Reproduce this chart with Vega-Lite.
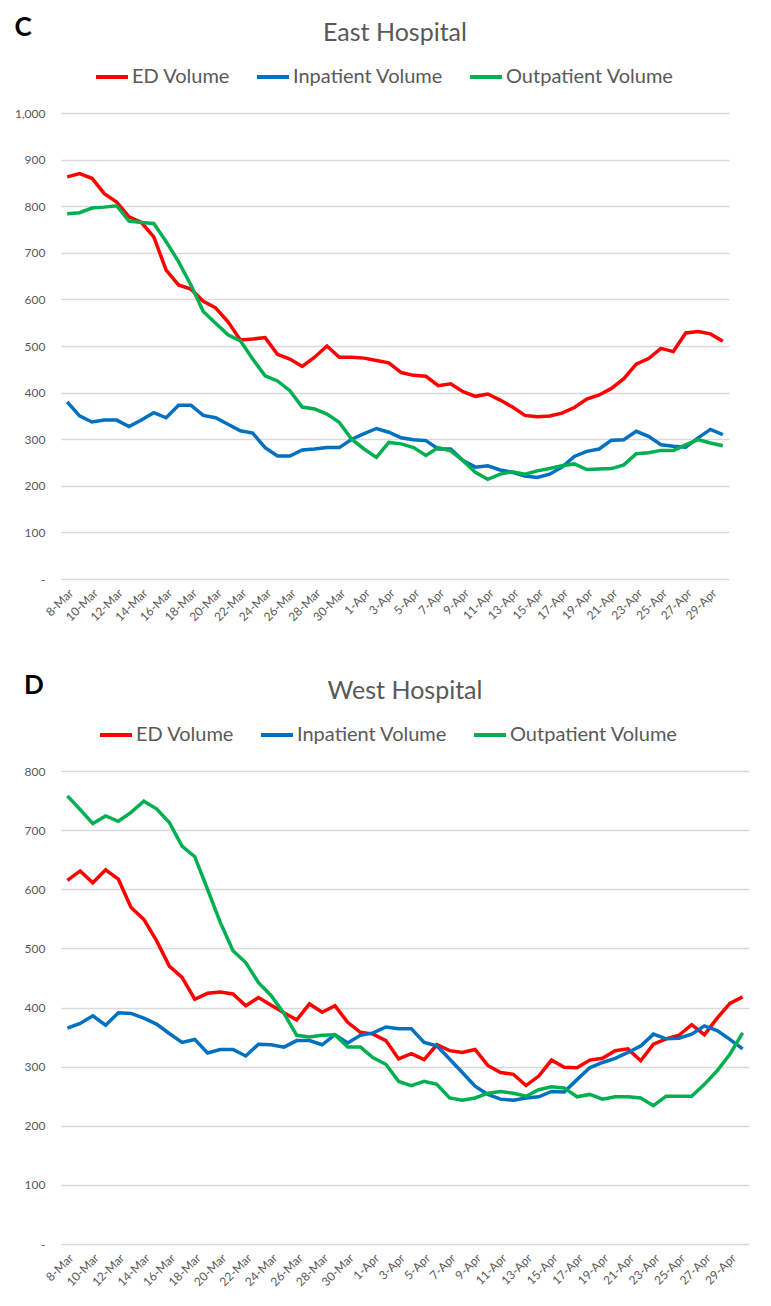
{
 "$schema": "https://vega.github.io/schema/vega-lite/v6.json",
 "padding": {"left": 14, "top": 15, "right": 5, "bottom": 5},
 "background": "white",
 "config": {"font": "Lato", "view": {"stroke": null}, "concat": {"spacing": 50}},
 "align": "none",
 "resolve": {"scale": {"color": "independent"}, "legend": {"color": "independent"}},
 "datasets": {
  "east": [
   {"d":"8-Mar","ED Volume":863,"Inpatient Volume":380,"Outpatient Volume":784},
   {"d":"9-Mar","ED Volume":870,"Inpatient Volume":350,"Outpatient Volume":786},
   {"d":"10-Mar","ED Volume":860,"Inpatient Volume":337,"Outpatient Volume":796},
   {"d":"11-Mar","ED Volume":827,"Inpatient Volume":341,"Outpatient Volume":798},
   {"d":"12-Mar","ED Volume":809,"Inpatient Volume":341,"Outpatient Volume":801},
   {"d":"13-Mar","ED Volume":777,"Inpatient Volume":327,"Outpatient Volume":768},
   {"d":"14-Mar","ED Volume":765,"Inpatient Volume":341,"Outpatient Volume":765},
   {"d":"15-Mar","ED Volume":734,"Inpatient Volume":357,"Outpatient Volume":763},
   {"d":"16-Mar","ED Volume":663,"Inpatient Volume":346,"Outpatient Volume":724},
   {"d":"17-Mar","ED Volume":631,"Inpatient Volume":373,"Outpatient Volume":681},
   {"d":"18-Mar","ED Volume":622,"Inpatient Volume":373,"Outpatient Volume":631},
   {"d":"19-Mar","ED Volume":596,"Inpatient Volume":351,"Outpatient Volume":574},
   {"d":"20-Mar","ED Volume":582,"Inpatient Volume":346,"Outpatient Volume":549},
   {"d":"21-Mar","ED Volume":552,"Inpatient Volume":332,"Outpatient Volume":524},
   {"d":"22-Mar","ED Volume":513,"Inpatient Volume":318,"Outpatient Volume":511},
   {"d":"23-Mar","ED Volume":515,"Inpatient Volume":313,"Outpatient Volume":472},
   {"d":"24-Mar","ED Volume":518,"Inpatient Volume":282,"Outpatient Volume":436},
   {"d":"25-Mar","ED Volume":482,"Inpatient Volume":264,"Outpatient Volume":425},
   {"d":"26-Mar","ED Volume":472,"Inpatient Volume":264,"Outpatient Volume":404},
   {"d":"27-Mar","ED Volume":456,"Inpatient Volume":277,"Outpatient Volume":369},
   {"d":"28-Mar","ED Volume":476,"Inpatient Volume":279,"Outpatient Volume":365},
   {"d":"29-Mar","ED Volume":500,"Inpatient Volume":282,"Outpatient Volume":354},
   {"d":"30-Mar","ED Volume":476,"Inpatient Volume":282,"Outpatient Volume":336},
   {"d":"31-Mar","ED Volume":476,"Inpatient Volume":300,"Outpatient Volume":300},
   {"d":"1-Apr","ED Volume":474,"Inpatient Volume":312,"Outpatient Volume":279},
   {"d":"2-Apr","ED Volume":469,"Inpatient Volume":323,"Outpatient Volume":261},
   {"d":"3-Apr","ED Volume":464,"Inpatient Volume":315,"Outpatient Volume":293},
   {"d":"4-Apr","ED Volume":443,"Inpatient Volume":303,"Outpatient Volume":290},
   {"d":"5-Apr","ED Volume":437,"Inpatient Volume":299,"Outpatient Volume":282},
   {"d":"6-Apr","ED Volume":435,"Inpatient Volume":297,"Outpatient Volume":265},
   {"d":"7-Apr","ED Volume":415,"Inpatient Volume":279,"Outpatient Volume":282},
   {"d":"8-Apr","ED Volume":419,"Inpatient Volume":279,"Outpatient Volume":275},
   {"d":"9-Apr","ED Volume":402,"Inpatient Volume":254,"Outpatient Volume":254},
   {"d":"10-Apr","ED Volume":392,"Inpatient Volume":240,"Outpatient Volume":229},
   {"d":"11-Apr","ED Volume":397,"Inpatient Volume":243,"Outpatient Volume":214},
   {"d":"12-Apr","ED Volume":384,"Inpatient Volume":234,"Outpatient Volume":225},
   {"d":"13-Apr","ED Volume":369,"Inpatient Volume":229,"Outpatient Volume":230},
   {"d":"14-Apr","ED Volume":351,"Inpatient Volume":221,"Outpatient Volume":225},
   {"d":"15-Apr","ED Volume":348,"Inpatient Volume":218,"Outpatient Volume":232},
   {"d":"16-Apr","ED Volume":350,"Inpatient Volume":225,"Outpatient Volume":237},
   {"d":"17-Apr","ED Volume":356,"Inpatient Volume":240,"Outpatient Volume":243},
   {"d":"18-Apr","ED Volume":368,"Inpatient Volume":263,"Outpatient Volume":247},
   {"d":"19-Apr","ED Volume":386,"Inpatient Volume":274,"Outpatient Volume":235},
   {"d":"20-Apr","ED Volume":395,"Inpatient Volume":279,"Outpatient Volume":236},
   {"d":"21-Apr","ED Volume":409,"Inpatient Volume":298,"Outpatient Volume":237},
   {"d":"22-Apr","ED Volume":430,"Inpatient Volume":299,"Outpatient Volume":245},
   {"d":"23-Apr","ED Volume":461,"Inpatient Volume":317,"Outpatient Volume":269},
   {"d":"24-Apr","ED Volume":473,"Inpatient Volume":306,"Outpatient Volume":271},
   {"d":"25-Apr","ED Volume":495,"Inpatient Volume":288,"Outpatient Volume":276},
   {"d":"26-Apr","ED Volume":488,"Inpatient Volume":285,"Outpatient Volume":276},
   {"d":"27-Apr","ED Volume":528,"Inpatient Volume":283,"Outpatient Volume":288},
   {"d":"28-Apr","ED Volume":531,"Inpatient Volume":303,"Outpatient Volume":299},
   {"d":"29-Apr","ED Volume":526,"Inpatient Volume":321,"Outpatient Volume":292},
   {"d":"30-Apr","ED Volume":510,"Inpatient Volume":310,"Outpatient Volume":286}
  ],
  "west": [
   {"d":"8-Mar","ED Volume":615,"Inpatient Volume":365,"Outpatient Volume":758},
   {"d":"9-Mar","ED Volume":631,"Inpatient Volume":373,"Outpatient Volume":735},
   {"d":"10-Mar","ED Volume":611,"Inpatient Volume":386,"Outpatient Volume":711},
   {"d":"11-Mar","ED Volume":633,"Inpatient Volume":370,"Outpatient Volume":724},
   {"d":"12-Mar","ED Volume":617,"Inpatient Volume":391,"Outpatient Volume":715},
   {"d":"13-Mar","ED Volume":569,"Inpatient Volume":390,"Outpatient Volume":730},
   {"d":"14-Mar","ED Volume":549,"Inpatient Volume":382,"Outpatient Volume":749},
   {"d":"15-Mar","ED Volume":513,"Inpatient Volume":372,"Outpatient Volume":736},
   {"d":"16-Mar","ED Volume":470,"Inpatient Volume":356,"Outpatient Volume":713},
   {"d":"17-Mar","ED Volume":451,"Inpatient Volume":341,"Outpatient Volume":673},
   {"d":"18-Mar","ED Volume":414,"Inpatient Volume":346,"Outpatient Volume":655},
   {"d":"19-Mar","ED Volume":424,"Inpatient Volume":323,"Outpatient Volume":600},
   {"d":"20-Mar","ED Volume":426,"Inpatient Volume":329,"Outpatient Volume":544},
   {"d":"21-Mar","ED Volume":423,"Inpatient Volume":329,"Outpatient Volume":496},
   {"d":"22-Mar","ED Volume":403,"Inpatient Volume":318,"Outpatient Volume":476},
   {"d":"23-Mar","ED Volume":417,"Inpatient Volume":338,"Outpatient Volume":442},
   {"d":"24-Mar","ED Volume":404,"Inpatient Volume":337,"Outpatient Volume":420},
   {"d":"25-Mar","ED Volume":391,"Inpatient Volume":333,"Outpatient Volume":390},
   {"d":"26-Mar","ED Volume":379,"Inpatient Volume":344,"Outpatient Volume":353},
   {"d":"27-Mar","ED Volume":406,"Inpatient Volume":344,"Outpatient Volume":350},
   {"d":"28-Mar","ED Volume":392,"Inpatient Volume":337,"Outpatient Volume":353},
   {"d":"29-Mar","ED Volume":403,"Inpatient Volume":354,"Outpatient Volume":354},
   {"d":"30-Mar","ED Volume":375,"Inpatient Volume":340,"Outpatient Volume":333},
   {"d":"31-Mar","ED Volume":358,"Inpatient Volume":353,"Outpatient Volume":333},
   {"d":"1-Apr","ED Volume":355,"Inpatient Volume":357,"Outpatient Volume":315},
   {"d":"2-Apr","ED Volume":344,"Inpatient Volume":367,"Outpatient Volume":304},
   {"d":"3-Apr","ED Volume":313,"Inpatient Volume":364,"Outpatient Volume":275},
   {"d":"4-Apr","ED Volume":322,"Inpatient Volume":364,"Outpatient Volume":268},
   {"d":"5-Apr","ED Volume":312,"Inpatient Volume":341,"Outpatient Volume":275},
   {"d":"6-Apr","ED Volume":337,"Inpatient Volume":335,"Outpatient Volume":270},
   {"d":"7-Apr","ED Volume":327,"Inpatient Volume":313,"Outpatient Volume":247},
   {"d":"8-Apr","ED Volume":324,"Inpatient Volume":290,"Outpatient Volume":243},
   {"d":"9-Apr","ED Volume":329,"Inpatient Volume":267,"Outpatient Volume":247},
   {"d":"10-Apr","ED Volume":302,"Inpatient Volume":253,"Outpatient Volume":255},
   {"d":"11-Apr","ED Volume":290,"Inpatient Volume":245,"Outpatient Volume":258},
   {"d":"12-Apr","ED Volume":287,"Inpatient Volume":243,"Outpatient Volume":255},
   {"d":"13-Apr","ED Volume":268,"Inpatient Volume":247,"Outpatient Volume":250},
   {"d":"14-Apr","ED Volume":284,"Inpatient Volume":249,"Outpatient Volume":261},
   {"d":"15-Apr","ED Volume":311,"Inpatient Volume":258,"Outpatient Volume":266},
   {"d":"16-Apr","ED Volume":299,"Inpatient Volume":257,"Outpatient Volume":264},
   {"d":"17-Apr","ED Volume":298,"Inpatient Volume":278,"Outpatient Volume":249},
   {"d":"18-Apr","ED Volume":311,"Inpatient Volume":298,"Outpatient Volume":253},
   {"d":"19-Apr","ED Volume":314,"Inpatient Volume":307,"Outpatient Volume":245},
   {"d":"20-Apr","ED Volume":327,"Inpatient Volume":314,"Outpatient Volume":249},
   {"d":"21-Apr","ED Volume":330,"Inpatient Volume":324,"Outpatient Volume":249},
   {"d":"22-Apr","ED Volume":310,"Inpatient Volume":335,"Outpatient Volume":247},
   {"d":"23-Apr","ED Volume":338,"Inpatient Volume":355,"Outpatient Volume":234},
   {"d":"24-Apr","ED Volume":347,"Inpatient Volume":347,"Outpatient Volume":250},
   {"d":"25-Apr","ED Volume":353,"Inpatient Volume":348,"Outpatient Volume":250},
   {"d":"26-Apr","ED Volume":371,"Inpatient Volume":355,"Outpatient Volume":250},
   {"d":"27-Apr","ED Volume":354,"Inpatient Volume":369,"Outpatient Volume":270},
   {"d":"28-Apr","ED Volume":382,"Inpatient Volume":361,"Outpatient Volume":293},
   {"d":"29-Apr","ED Volume":407,"Inpatient Volume":346,"Outpatient Volume":321},
   {"d":"30-Apr","ED Volume":418,"Inpatient Volume":330,"Outpatient Volume":357}
  ]
 },
 "vconcat": [
  {
   "title": {"text": "C", "anchor": "start", "fontSize": 26, "fontWeight": "bold", "color": "#000000", "offset": -20},
   "vconcat": [
    {
     "title": {"text": "East Hospital", "fontSize": 25, "fontWeight": "normal", "color": "#595959", "offset": 61},
     "width": 668,
     "height": 466,
     "data": {"name": "east"},
     "transform": [{"fold": ["ED Volume", "Inpatient Volume", "Outpatient Volume"], "as": ["series", "value"]}],
     "mark": {"type": "line", "strokeWidth": 3.5},
     "encoding": {
      "x": {"field": "d", "type": "ordinal", "sort": null, "scale": {"type": "point", "padding": 0.5},
       "axis": {"values": ["8-Mar","10-Mar","12-Mar","14-Mar","16-Mar","18-Mar","20-Mar","22-Mar","24-Mar","26-Mar","28-Mar","30-Mar","1-Apr","3-Apr","5-Apr","7-Apr","9-Apr","11-Apr","13-Apr","15-Apr","17-Apr","19-Apr","21-Apr","23-Apr","25-Apr","27-Apr","29-Apr"],
        "labelAngle": -45, "grid": false, "ticks": false, "domain": false, "title": null, "labelColor": "#595959", "labelFontSize": 12, "labelPadding": 8}},
      "y": {"field": "value", "type": "quantitative", "scale": {"domain": [0, 1000], "nice": false},
       "axis": {"values": [0,100,200,300,400,500,600,700,800,900,1000], "labelExpr": "datum.value == 0 ? '-' : format(datum.value, ',')", "grid": true, "gridColor": "#d9d9d9", "gridWidth": 1.5, "ticks": false, "domain": false, "title": null, "labelColor": "#595959", "labelFontSize": 12, "labelPadding": 16}},
      "color": {"field": "series", "type": "nominal",
       "scale": {"domain": ["ED Volume", "Inpatient Volume", "Outpatient Volume"], "range": ["#ff0000", "#0070c0", "#00b050"]},
       "legend": {"orient": "none", "legendX": 33, "legendY": -54, "direction": "horizontal", "title": null, "symbolType": "stroke", "symbolStrokeWidth": 4, "symbolSize": 1024, "labelFontSize": 20, "labelLimit": 300, "labelColor": "#595959", "columnPadding": 18, "labelOffset": 2}}
     }
    }
   ]
  },
  {
   "title": {"text": "D", "anchor": "start", "fontSize": 26, "fontWeight": "bold", "color": "#000000", "offset": -20},
   "vconcat": [
    {
     "title": {"text": "West Hospital", "fontSize": 25, "fontWeight": "normal", "color": "#595959", "offset": 61},
     "width": 688,
     "height": 473,
     "data": {"name": "west"},
     "transform": [{"fold": ["ED Volume", "Inpatient Volume", "Outpatient Volume"], "as": ["series", "value"]}],
     "mark": {"type": "line", "strokeWidth": 3.5},
     "encoding": {
      "x": {"field": "d", "type": "ordinal", "sort": null, "scale": {"type": "point", "padding": 0.5},
       "axis": {"values": ["8-Mar","10-Mar","12-Mar","14-Mar","16-Mar","18-Mar","20-Mar","22-Mar","24-Mar","26-Mar","28-Mar","30-Mar","1-Apr","3-Apr","5-Apr","7-Apr","9-Apr","11-Apr","13-Apr","15-Apr","17-Apr","19-Apr","21-Apr","23-Apr","25-Apr","27-Apr","29-Apr"],
        "labelAngle": -45, "grid": false, "ticks": false, "domain": false, "title": null, "labelColor": "#595959", "labelFontSize": 12, "labelPadding": 8}},
      "y": {"field": "value", "type": "quantitative", "scale": {"domain": [0, 800], "nice": false},
       "axis": {"values": [0,100,200,300,400,500,600,700,800], "labelExpr": "datum.value == 0 ? '-' : format(datum.value, ',')", "grid": true, "gridColor": "#d9d9d9", "gridWidth": 1.5, "ticks": false, "domain": false, "title": null, "labelColor": "#595959", "labelFontSize": 12, "labelPadding": 16}},
      "color": {"field": "series", "type": "nominal",
       "scale": {"domain": ["ED Volume", "Inpatient Volume", "Outpatient Volume"], "range": ["#ff0000", "#0070c0", "#00b050"]},
       "legend": {"orient": "none", "legendX": 37, "legendY": -54, "direction": "horizontal", "title": null, "symbolType": "stroke", "symbolStrokeWidth": 4, "symbolSize": 1024, "labelFontSize": 20, "labelLimit": 300, "labelColor": "#595959", "columnPadding": 18, "labelOffset": 2}}
     }
    }
   ]
  }
 ]
}
